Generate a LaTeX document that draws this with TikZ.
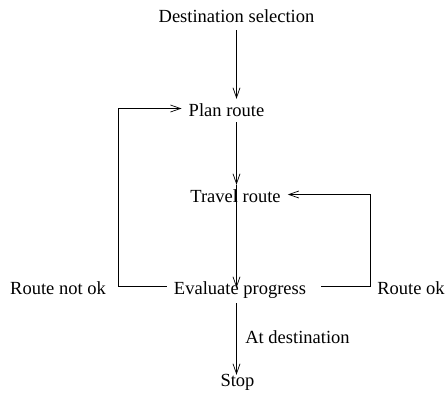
\documentclass[tikz,border=0pt]{standalone}
\usepackage{fontspec}
\setmainfont{Liberation Serif}
\usetikzlibrary{arrows.meta, positioning, calc}

\begin{document}
\begin{tikzpicture}[x=1pt,y=-1pt,
    lbl/.style={font=\fontsize{18.5}{22}\selectfont, anchor=base,
      text height=15pt, text depth=0pt, inner xsep=7pt, inner ysep=2pt},
    arr/.style={-{Straight Barb[length=10pt,width=7pt]}, line width=0.7pt}]
    \useasboundingbox (0,0) rectangle (447,397);

    % States
    \node[lbl] (dest)   at (236.5,22)  {Destination selection};
    \node[lbl] (plan)   at (226.5,116) {Plan route};
    \node[lbl] (travel) at (235.5,202) {Travel route};
    \node[lbl] (eval)   at (240,294)   {Evaluate progress};
    \node[lbl] (stop)   at (237.5,386) {Stop};

    % Outcomes
    \node[lbl] (notok)  at (58,294)    {Route not ok};
    \node[lbl] (ok)     at (411,294)   {Route ok};
    \node[lbl] (atdest) at (297.5,343) {At destination};

    % Main line
    \draw[arr] ([yshift=-6pt]dest.south) -- (dest.south |- plan.north);
    \draw[arr] ([yshift=-4pt]plan.south -| dest.south) -- (travel.north -| dest.south);
    \draw[arr] (travel.north -| dest.south) -- ([yshift=-11pt]eval.north -| dest.south);
    \draw[arr] ([yshift=-7pt]eval.south -| dest.south) -- ([yshift=-6pt]stop.north -| dest.south);

    % Loops
    \draw[arr] (eval.west) -| ([xshift=5pt]notok.east) |- (plan.west);
    \draw[arr] ([xshift=8pt]eval.east) -| (ok.west) |- (travel.east);
  \end{tikzpicture}
\end{document}
